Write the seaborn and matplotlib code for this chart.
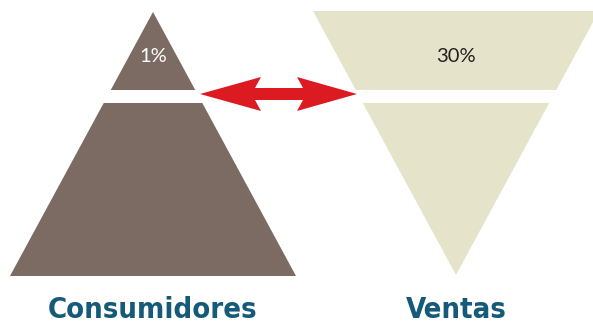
import matplotlib
matplotlib.use("Agg")
import matplotlib.pyplot as plt
import seaborn as sns
from matplotlib.patches import Polygon

# Data
categories = ["Consumidores", "Ventas"]
top_shares = [1, 30]          # percent shown in the top slice
share_labels = ["1%", "30%"]
shape_colors = ["#7b6b63", "#e5e3ca"]
share_text_colors = ["#ffffff", "#231f20"]
title_color = "#155a78"
arrow_color = "#dc1a22"

sns.set_theme(style="white")
plt.rcParams['font.family'] = ['Lato', 'DejaVu Sans']

W, H = 593, 325
fig = plt.figure(figsize=(W / 100, H / 100), dpi=100)
ax = fig.add_axes([0, 0, 1, 1])
ax.set_xlim(0, W)
ax.set_ylim(H, 0)
ax.axis("off")

centers = [153, 456]
tip_y = [12, 275]
base_y = [276, 11]
split_top, split_bot = 90, 103
slope = 143 / 264.0


def hw(y, apex_y):
    return abs(y - apex_y) * slope

cx, a, b = centers[0], tip_y[0], base_y[0]
ax.add_patch(Polygon([(cx, a), (cx + hw(split_top, a), split_top),
                      (cx - hw(split_top, a), split_top)], closed=True,
                     color=shape_colors[0], lw=0))
ax.add_patch(Polygon([(cx - hw(split_bot, a), split_bot), (cx + hw(split_bot, a), split_bot),
                      (cx + hw(b, a), b), (cx - hw(b, a), b)], closed=True,
                     color=shape_colors[0], lw=0))

cx, a, b = centers[1], tip_y[1], base_y[1]
ax.add_patch(Polygon([(cx - hw(b, a), b), (cx + hw(b, a), b),
                      (cx + hw(split_top, a), split_top), (cx - hw(split_top, a), split_top)],
                     closed=True, color=shape_colors[1], lw=0))
ax.add_patch(Polygon([(cx - hw(split_bot, a), split_bot), (cx + hw(split_bot, a), split_bot),
                      (cx, a)], closed=True, color=shape_colors[1], lw=0))

ym = 94
arrow = [(200, ym), (261, 77), (255, 88), (303, 88), (297, 77), (357, ym),
         (297, 111), (303, 100), (255, 100), (261, 111)]
ax.add_patch(Polygon(arrow, closed=True, color=arrow_color, lw=0))

for cx, lab, col in zip(centers, share_labels, share_text_colors):
    ax.text(cx, 56, lab, ha="center", va="center", fontsize=14.5, color=col)

for cx, cat in zip(centers, categories):
    ax.text(cx, 318, cat, ha="center", va="baseline", fontsize=21, fontweight="bold",
            color=title_color, family=['DejaVu Sans'], fontstretch='condensed')

fig.savefig("out.png", dpi=100)
